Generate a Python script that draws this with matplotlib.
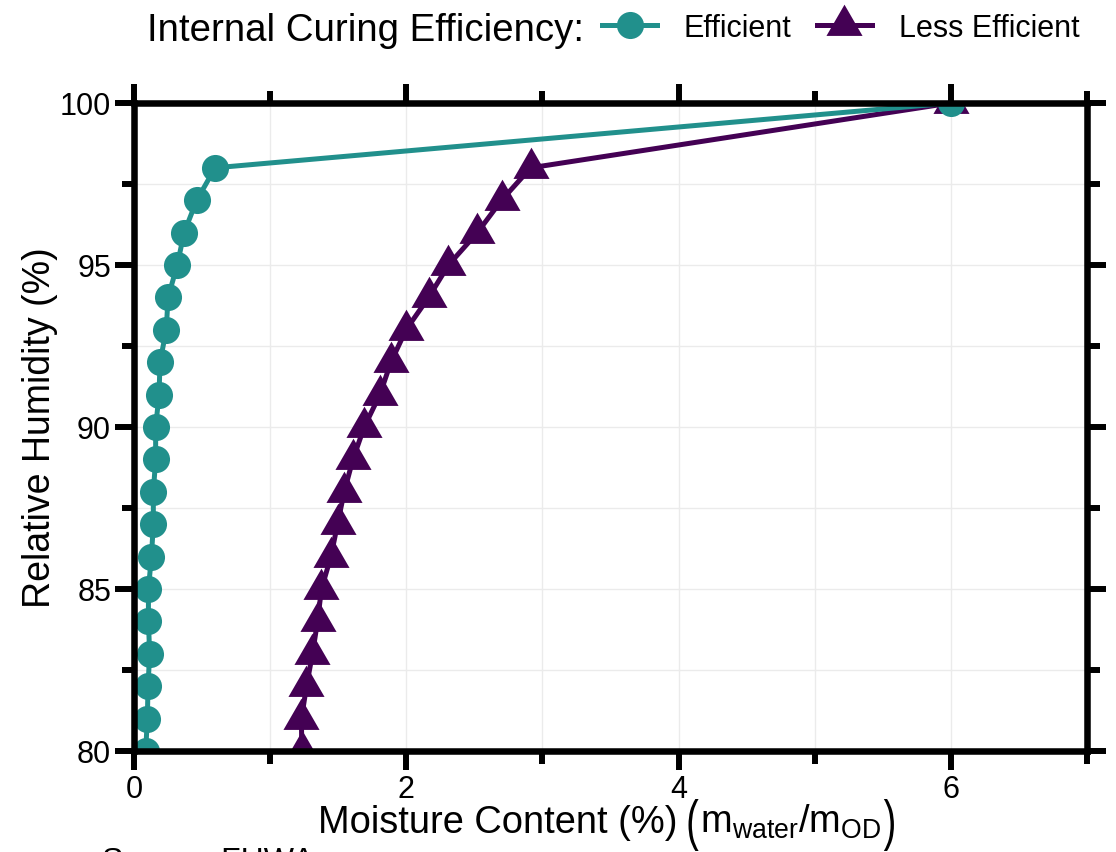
import matplotlib
matplotlib.use("Agg")
import matplotlib.pyplot as plt
from matplotlib.path import Path
from matplotlib.patches import PathPatch
from matplotlib.textpath import TextPath
from matplotlib.font_manager import FontProperties
from matplotlib.transforms import Affine2D, IdentityTransform
from matplotlib.ticker import MultipleLocator
import numpy as np

# Relative humidity levels (%)
rh = [100, 98, 97, 96, 95, 94, 93, 92, 91, 90, 89, 88, 87, 86, 85, 84, 83, 82, 81, 80]

# Moisture content (%) for each internal curing efficiency class
efficient = [6.0, 0.596, 0.461, 0.368, 0.318, 0.250, 0.237, 0.191, 0.184, 0.159,
             0.159, 0.142, 0.142, 0.128, 0.106, 0.106, 0.115, 0.103, 0.098, 0.086]
less_efficient = [6.0, 2.914, 2.70, 2.522, 2.31, 2.164, 1.998, 1.887, 1.806, 1.691,
                  1.608, 1.544, 1.495, 1.446, 1.377, 1.348, 1.311, 1.267, 1.23, 1.232]

series_labels = ["Efficient", "Less Efficient"]
legend_title = "Internal Curing Efficiency:"
x_ticks = [0, 2, 4, 6]
y_ticks = [80, 85, 90, 95, 100]

TEAL = "#21908C"
PURPLE = "#440154"

plt.rcParams["font.family"] = ["Liberation Sans", "DejaVu Sans"]
plt.rcParams["mathtext.fontset"] = "custom"
plt.rcParams["mathtext.rm"] = "Liberation Sans"
plt.rcParams["mathtext.it"] = "Liberation Sans:italic"
plt.rcParams["mathtext.bf"] = "Liberation Sans:bold"

W, H = 1116, 853
fig = plt.figure(figsize=(W / 100, H / 100), dpi=100)
ax = fig.add_axes([134 / W, 1 - 752 / H, (1087 - 134) / W, (752 - 104) / H])

# equilateral triangle centred on its centroid
tri = Path([(0, 1), (-0.866, -0.5), (0.866, -0.5), (0, 1)],
           [Path.MOVETO, Path.LINETO, Path.LINETO, Path.CLOSEPOLY])

ax.plot(less_efficient, rh, color=PURPLE, lw=3.6, marker=tri, markersize=30,
        markeredgewidth=0, label=series_labels[1], zorder=2)
ax.plot(efficient, rh, color=TEAL, lw=3.6, marker="o", markersize=19.5,
        markeredgewidth=0, label=series_labels[0], zorder=2.1)

ax.set_xlim(0, 7)
ax.set_ylim(80, 100)
ax.set_xticks(x_ticks)
ax.set_yticks(y_ticks)
ax.xaxis.set_minor_locator(MultipleLocator(1))
ax.yaxis.set_minor_locator(MultipleLocator(2.5))

ax.grid(True, which="both", color="#EBEBEB", lw=1.0, zorder=0)
ax.set_axisbelow(True)

for sp in ax.spines.values():
    sp.set_linewidth(4.7)
    sp.set_color("black")
    sp.set_zorder(3)

ax.tick_params(which="major", length=13.5, width=4.3, color="black",
               labelsize=22, top=True, right=True, direction="out", pad=3)
ax.tick_params(which="minor", length=9, width=4.3, color="black",
               top=True, right=True, direction="out")
ax.tick_params(axis="x", which="both", labeltop=False)
ax.tick_params(axis="y", which="both", labelright=False)

ax.set_ylabel("Relative Humidity (%)", fontsize=27, labelpad=1.5)

# x-axis title built from pieces; the enclosing parentheses are stretched
# vertically so they span the subscripted fraction
renderer = fig.canvas.get_renderer()
title_pt = 27.4
em_px = title_pt * fig.dpi / 72
base_y = 1 - 833 / H
paren_prop = FontProperties(family="Liberation Sans")


def tall_paren(ch, x_left_px, top_px, bottom_px):
    tp = TextPath((0, 0), ch, size=em_px, prop=paren_prop)
    ext = tp.get_extents()
    sy = (bottom_px - top_px) / ext.height
    tr = (Affine2D().translate(-ext.x0, -ext.y1).scale(1, sy)
          .translate(x_left_px, H - top_px))
    fig.patches.append(PathPatch(tr.transform_path(tp), facecolor="black",
                                 edgecolor="none", transform=IdentityTransform(),
                                 figure=fig))
    return x_left_px + ext.width


x_px = 318
t = fig.text(x_px / W, base_y, "Moisture Content (%)", fontsize=title_pt,
             ha="left", va="baseline")
x_px = t.get_window_extent(renderer).x1 + 11
x_px = tall_paren("(", x_px, 800, 852) + 1
t = fig.text(x_px / W, base_y, r"$\mathrm{m_{water}/m_{OD}}$", fontsize=title_pt,
             ha="left", va="baseline")
x_px = t.get_window_extent(renderer).x1 + 3
tall_paren(")", x_px, 800, 852)

# legend: title on the left, entries in one row
fig.text(147 / W, 1 - 41 / H, legend_title, fontsize=27.6, ha="left", va="baseline")
handles, labels = ax.get_legend_handles_labels()
order = [1, 0]
fig.legend([handles[i] for i in order], [labels[i] for i in order],
           loc="center left", bbox_to_anchor=(602 / W, 1 - 29 / H), ncol=2,
           frameon=False, fontsize=22, handlelength=1.8, handletextpad=0.88,
           columnspacing=0.82, borderpad=0, borderaxespad=0)

fig.text(102 / W, 1 - 870 / H, "Source: FHWA", fontsize=23, ha="left", va="baseline")

fig.savefig("out.png", dpi=100)
